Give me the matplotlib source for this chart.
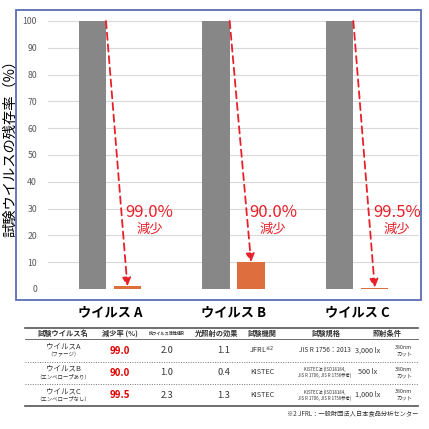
import numpy as np
import matplotlib
matplotlib.use("Agg")
import matplotlib.pyplot as plt
from matplotlib.patches import Rectangle

plt.rcParams['font.family'] = ['Noto Sans CJK JP', 'DejaVu Sans']

# chart data
viruses = ['ウイルス A', 'ウイルス B', 'ウイルス C']
before = [100, 100, 100]
after = [1.0, 10.0, 0.5]
reduction = [99.0, 90.0, 99.5]
yticks = [0, 10, 20, 30, 40, 50, 60, 70, 80, 90, 100]

# table data
headers = ['試験ウイルス名', '減少率 (%)', '抗ウイルス活性値R', '光照射の効果',
           '試験機関', '試験規格', '照射条件']
names = ['ウイルスA', 'ウイルスB', 'ウイルスC']
subnames = ['（ファージ）', '（エンベロープあり）', '（エンベロープなし）']
r_values = ['2.0', '1.0', '2.3']
light_effect = ['1.1', '0.4', '1.3']
labs = ['JFRL$^{※2}$', 'KISTEC', 'KISTEC']
standards = ['JIS R 1756：2013',
             'KISTEC法 (ISO18184,\nJIS R 1706, JIS R 1756参考)',
             'KISTEC法 (ISO18184,\nJIS R 1706, JIS R 1756参考)']
lux = ['3,000 lx', '500 lx', '1,000 lx']
cut = ['380nm\nカット', '380nm\nカット', '380nm\nカット']
footnote = '※2 JFRL：一般財団法人日本食品分析センター'

GRAY = '#878787'
ORANGE = '#DE6E3E'
RED = '#E8202A'
TXT = '#333333'

fig = plt.figure(figsize=(4.29, 4.29), dpi=100)
W = 429.0

def fx(px):
    return px / W

def fy(py):
    return 1 - py / W

ax = fig.add_axes([fx(48), fy(289), fx(419) - fx(48), fy(21) - fy(289)])
x = np.arange(len(viruses))
off, bw = 0.142, 0.222
ax.bar(x - off, before, bw, color=GRAY, zorder=2)
ax.bar(x + off, after, bw, color=ORANGE, zorder=2)
ax.set_xlim(-0.5, 2.5)
ax.set_ylim(0, 100)
ax.set_yticks(yticks)
ax.tick_params(axis='y', length=0, labelsize=6.3, labelcolor='#595959', pad=8)
ax.tick_params(axis='x', length=0, pad=12)
ax.set_xticks(x)
ax.set_xticklabels(viruses, fontsize=9.5, fontweight='bold')
ax.grid(axis='y', color='#d9d9d9', lw=0.8, zorder=0)
for s in ax.spines.values():
    s.set_visible(False)

for i in range(len(viruses)):
    ax.annotate('', xy=(x[i] + off, after[i]), xytext=(x[i] - off + bw / 2, before[i]),
                arrowprops=dict(arrowstyle='-|>,head_length=0.5,head_width=0.25',
                                color=RED, lw=1.3, linestyle=(0, (4, 2.5)),
                                shrinkA=0, shrinkB=0), zorder=3)
    ax.text(x[i] + 0.32, 28.7, f'{reduction[i]:.1f}%', color=RED, fontsize=12,
            ha='center', va='center', zorder=4)
    ax.text(x[i] + 0.32, 22.3, '減少', color=RED, fontsize=9.5,
            ha='center', va='center', zorder=4)

fig.text(fx(10), fy(145), '試験ウイルスの残存率（%）', rotation=90, fontsize=10.3,
         ha='center', va='center')

# overlay in pixel coords for frame and table
tax = fig.add_axes([0, 0, 1, 1])
tax.set_xlim(0, W)
tax.set_ylim(W, 0)
tax.axis('off')
tax.add_patch(Rectangle((16, 10), 405, 290, fill=False, edgecolor='#5B6DB3', lw=1.3))

x0, x1 = 25, 418
tax.plot([x0, x1], [328, 328], color='#555555', lw=1.2)
tax.plot([x0, x1], [338.5, 338.5], color='#555555', lw=0.6)
tax.plot([x0, x1], [362, 362], color='#777777', lw=0.7, ls=(0, (1, 1.5)))
tax.plot([x0, x1], [383.5, 383.5], color='#777777', lw=0.7, ls=(0, (1, 1.5)))
tax.plot([x0, x1], [406, 406], color='#555555', lw=1.2)

hx = [63, 120, 167, 217, 262, 326, 387]
hsize = [5.2, 5.2, 3, 5.2, 5.2, 5.2, 5.2]
for h, xx, fs in zip(headers, hx, hsize):
    tax.text(xx, 333, h, fontsize=fs, fontweight='bold', color=TXT, ha='center', va='center')

row_y = [350.5, 372.5, 395]
for i, yy in enumerate(row_y):
    tax.text(63, yy - 3.7, names[i], fontsize=5.4, color=TXT, ha='center', va='center')
    tax.text(63, yy + 4.2, subnames[i], fontsize=3.9, color=TXT, ha='center', va='center')
    tax.text(120, yy, f'{reduction[i]:.1f}', fontsize=7, fontweight='bold', color='#E00000',
             ha='center', va='center')
    tax.text(167, yy, r_values[i], fontsize=6.7, color=TXT, ha='center', va='center')
    tax.text(224, yy, light_effect[i], fontsize=6.7, color=TXT, ha='center', va='center')
    tax.text(262, yy, labs[i], fontsize=5.2, color=TXT, ha='center', va='center')
    sfs = 4.7 if i == 0 else 3.1
    tax.text(325, yy, standards[i], fontsize=sfs, color=TXT, ha='center', va='center',
             linespacing=1.1)
    tax.text(368, yy, lux[i], fontsize=5.2, color=TXT, ha='center', va='center')
    tax.text(404, yy, cut[i], fontsize=3.9, color=TXT, ha='center', va='center',
             linespacing=1.3)

tax.text(418, 414, footnote, fontsize=4.5, color=TXT, ha='right', va='center')

fig.savefig('out.png', dpi=100)
